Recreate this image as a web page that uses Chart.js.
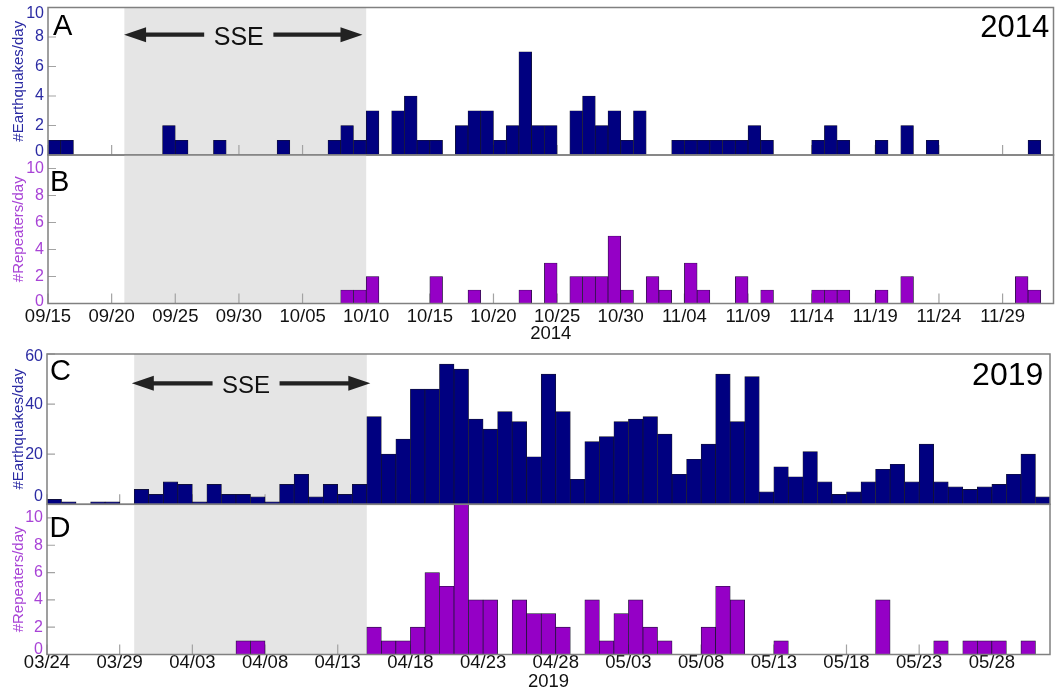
<!DOCTYPE html>
<html>
<head>
<meta charset="utf-8">
<script src="https://cdn.jsdelivr.net/npm/chart.js@4.4.0/dist/chart.umd.min.js"></script>
<style>
  html, body { margin: 0; padding: 0; background: #fff; width: 1056px; height: 692px; overflow: hidden; }
  canvas { position: absolute; left: 0; }
</style>
</head>
<body>
<canvas id="pA"></canvas>
<canvas id="pB"></canvas>
<canvas id="pC"></canvas>
<canvas id="pD"></canvas>
<script>
// ---- daily counts (one value per day from the first date of each window) ----
const START_2014 = '2014-09-15';
const quakes2014 = [
  1,1,0,0,0,0,0,0,0,2,
  1,0,0,1,0,0,0,0,1,0,
  0,0,1,2,1,3,0,3,4,1,
  1,0,2,3,3,1,2,7,2,2,
  0,3,4,2,3,1,3,0,0,1,
  1,1,1,1,1,2,1,0,0,0,
  1,2,1,0,0,1,0,2,0,1,
  0,0,0,0,0,0,0,1,0
];
const repeaters2014 = [
  0,0,0,0,0,0,0,0,0,0,
  0,0,0,0,0,0,0,0,0,0,
  0,0,0,1,1,2,0,0,0,0,
  2,0,0,1,0,0,0,1,0,3,
  0,2,2,2,5,1,0,2,1,0,
  3,1,0,0,2,0,1,0,0,0,
  1,1,1,0,0,1,0,2,0,0,
  0,0,0,0,0,0,2,1,0
];
const ticks2014 = ['09/15','09/20','09/25','09/30','10/05','10/10','10/15','10/20',
                   '10/25','10/30','11/04','11/09','11/14','11/19','11/24','11/29'];
const SSE_2014 = ['2014-09-21', '2014-10-10'];

const START_2019 = '2019-03-24';
const quakes2019 = [
  2,1,0,1,1,0,6,4,9,8,
  1,8,4,4,3,1,8,12,3,8,
  4,8,35,20,26,46,46,56,54,34,
  30,37,33,19,52,37,10,25,27,33,
  34,35,28,12,18,24,52,33,51,5,
  15,11,21,9,4,5,9,14,16,9,
  24,9,7,6,7,8,12,20,3
];
const repeaters2019 = [
  0,0,0,0,0,0,0,0,0,0,
  0,0,0,1,1,0,0,0,0,0,
  0,0,2,1,1,2,6,5,11,4,
  4,0,4,3,3,2,0,4,1,3,
  4,2,1,0,0,2,5,4,0,0,
  1,0,0,0,0,0,0,4,0,0,
  0,1,0,1,1,1,0,1,0
];
const ticks2019 = ['03/24','03/29','04/03','04/08','04/13','04/18','04/23',
                   '04/28','05/03','05/08','05/13','05/18','05/23','05/28'];
const SSE_2019 = ['2019-03-30', '2019-04-15'];

const TICK_STEP = 5; // days between labelled ticks

// ---- styling ----
const FONT = '"Liberation Sans", Arial, Helvetica, sans-serif';
Chart.defaults.font.family = FONT;
const NAVY = '#000080', NAVY_TXT = '#2b2ba3';
const PURPLE = '#9500c6', PURPLE_TXT = '#a843d6';
const SHADE = '#e5e5e5', FRAME = '#808080', TICKMARK = '#a3a3a3';
const XFONT = 18.5;

function dayOffset(startISO, iso) {
  return Math.round((Date.parse(iso) - Date.parse(startISO)) / 86400000);
}

function drawArrowHead(ctx, tipX, y, dir, len, half) {
  ctx.beginPath();
  ctx.moveTo(tipX, y);
  ctx.lineTo(tipX + dir * len, y - half);
  ctx.lineTo(tipX + dir * len, y + half);
  ctx.closePath();
  ctx.fill();
}

// shading, inward tick marks, frame and panel annotations
function decor(p) {
  return {
    id: 'panelDecor',
    beforeDraw(chart) {
      // keep the end labels of the value axis tucked inside the panel
      const y = chart.scales.y;
      if (!p.edgeNudge || typeof y.getLabelItems !== 'function') return;
      const items = y.getLabelItems();
      items.forEach((it, i) => {
        const v = y.ticks[i] && y.ticks[i].value;
        const tr = it.options && it.options.translation;
        if (!tr) return;
        if (v === y.min && p.edgeNudge.bottom) tr[1] += p.edgeNudge.bottom;
        if (v === y.max && p.edgeNudge.top) tr[1] += p.edgeNudge.top;
      });
    },
    beforeDatasetsDraw(chart) {
      const { ctx, chartArea: a, scales: { x, y } } = chart;
      ctx.save();
      const xs = x.getPixelForValue(p.sseDays[0]);
      const xe = x.getPixelForValue(p.sseDays[1]);
      ctx.fillStyle = SHADE;
      ctx.fillRect(xs, a.top, xe - xs, a.bottom - a.top);
      ctx.strokeStyle = TICKMARK;
      ctx.lineWidth = 1.2;
      ctx.beginPath();
      p.tickLabels.forEach((_, i) => {
        const px = x.getPixelForValue(i * TICK_STEP);
        ctx.moveTo(px, a.bottom);
        ctx.lineTo(px, a.bottom - 10);
      });
      y.ticks.forEach(t => {
        const py = y.getPixelForValue(t.value);
        ctx.moveTo(a.left, py);
        ctx.lineTo(a.left + 8, py);
      });
      ctx.stroke();
      ctx.restore();
    },
    afterDatasetsDraw(chart) {
      const { ctx, chartArea: a } = chart;
      ctx.save();
      ctx.strokeStyle = FRAME;
      ctx.lineWidth = 1.5;
      ctx.strokeRect(a.left, a.top, a.right - a.left, a.bottom - a.top);
      ctx.restore();
    },
    afterDraw(chart) {
      const { ctx, chartArea: a, scales: { x } } = chart;
      ctx.save();
      ctx.fillStyle = '#000';
      ctx.textBaseline = 'alphabetic';
      ctx.textAlign = 'left';
      ctx.font = '29px ' + FONT;
      ctx.fillText(p.letter, a.left + p.letterPos[0], a.top + p.letterPos[1]);
      if (p.yearTag) {
        ctx.textAlign = 'right';
        ctx.font = p.yearTag.size + 'px ' + FONT;
        ctx.fillText(p.yearTag.text, a.right + p.yearTag.dx, a.top + p.yearTag.dy);
      }
      if (p.arrow) {
        const ar = p.arrow;
        const tipL = x.getPixelForValue(p.sseDays[0]) + ar.dl;
        const tipR = x.getPixelForValue(p.sseDays[1]) + ar.dr;
        const cx = (tipL + tipR) / 2 + ar.textShift;
        const yA = a.top + ar.dy;
        ctx.fillStyle = '#222';
        ctx.strokeStyle = '#222';
        ctx.lineWidth = 4.2;
        ctx.beginPath();
        ctx.moveTo(tipL + 18, yA); ctx.lineTo(cx - ar.gap, yA);
        ctx.moveTo(cx + ar.gap, yA); ctx.lineTo(tipR - 18, yA);
        ctx.stroke();
        drawArrowHead(ctx, tipL, yA, 1, 22, 7.5);
        drawArrowHead(ctx, tipR, yA, -1, 22, 7.5);
        ctx.fillStyle = '#111';
        ctx.textAlign = 'center';
        ctx.font = ar.size + 'px ' + FONT;
        ctx.fillText('SSE', cx, a.top + ar.textDy);
      }
      ctx.restore();
    }
  };
}

function makePanel(p) {
  const canvas = document.getElementById(p.id);
  const cTop = Math.floor(p.top) - 12;
  const below = p.axisH ? p.axisH : 14;
  const cH = Math.ceil(p.bottom + below) - cTop;
  canvas.width = 1056;
  canvas.height = cH;
  canvas.style.top = cTop + 'px';
  const padTop = p.top - cTop;
  const room = cTop + cH - p.bottom;
  const nDays = p.values.length;
  p.sseDays = [dayOffset(p.start, p.sse[0]), dayOffset(p.start, p.sse[1])];

  new Chart(canvas, {
    type: 'bar',
    data: {
      datasets: [{
        data: p.values.map((v, i) => ({ x: i + 0.5, y: v })),
        backgroundColor: p.color,
        borderColor: '#15152a',
        borderWidth: 0.7,
        barPercentage: 1,
        categoryPercentage: 1
      }]
    },
    options: {
      responsive: false,
      animation: false,
      events: [],
      layout: { padding: { top: padTop, bottom: p.axisH ? 0 : room, left: 0, right: 1056 - p.right } },
      plugins: { legend: { display: false }, tooltip: { enabled: false } },
      scales: {
        x: {
          type: 'linear',
          min: 0,
          max: nDays,
          offset: false,
          display: !!p.axisH,
          grid: { display: false, drawTicks: false },
          border: { display: false },
          ticks: {
            stepSize: TICK_STEP,
            includeBounds: false,
            autoSkip: false,
            maxRotation: 0,
            padding: p.tickPad || 0,
            color: '#111',
            font: { size: XFONT },
            callback: v => p.tickLabels[Math.round(v / TICK_STEP)] ?? ''
          },
          title: {
            display: !!p.axisH,
            text: p.xTitle || '',
            color: '#111',
            font: { size: XFONT },
            padding: { top: 0, bottom: p.axisH ? room - p.axisH : 0 }
          },
          afterFit: s => { s.height = p.axisH ? room : 0; s.paddingLeft = 0; s.paddingRight = 0; }
        },
        y: {
          min: 0,
          max: p.yMax,
          grid: { display: false, drawTicks: false },
          border: { display: false },
          ticks: { stepSize: p.yStep, includeBounds: false, autoSkip: false, color: p.textColor, font: { size: 16 }, padding: 4 },
          title: {
            display: true,
            text: p.yTitle,
            color: p.textColor,
            font: { size: 15 },
            padding: { top: 10.2, bottom: 0 }
          },
          afterFit: s => { s.width = p.left; s.paddingTop = 0; s.paddingBottom = 0; }
        }
      }
    },
    plugins: [decor(p)]
  });
}

makePanel({
  id: 'pA', start: START_2014, values: quakes2014, color: NAVY, textColor: NAVY_TXT,
  yTitle: '#Earthquakes/day', yMax: 10, yStep: 2,
  top: 7.5, bottom: 155, left: 48, right: 1053.5,
  tickLabels: ticks2014, sse: SSE_2014,
  edgeNudge: { top: 5.8, bottom: -3.3 },
  letter: 'A', letterPos: [5, 27.5],
  yearTag: { text: '2014', dx: -4.2, dy: 29.8, size: 31 },
  arrow: { dy: 27.2, dl: -0.3, dr: -3.7, textShift: -4.5, gap: 34.6, textDy: 37.5, size: 25 }
});
makePanel({
  id: 'pB', start: START_2014, values: repeaters2014, color: PURPLE, textColor: PURPLE_TXT,
  yTitle: '#Repeaters/day', yMax: 11, yStep: 2,
  top: 155, bottom: 303.5, left: 48, right: 1053.5,
  tickLabels: ticks2014, sse: SSE_2014, axisH: 41.1, tickPad: 2.1, xTitle: '2014',
  edgeNudge: { bottom: -1.6 },
  letter: 'B', letterPos: [2, 35.5]
});
makePanel({
  id: 'pC', start: START_2019, values: quakes2019, color: NAVY, textColor: NAVY_TXT,
  yTitle: '#Earthquakes/day', yMax: 60, yStep: 20,
  top: 354, bottom: 504.3, left: 47, right: 1050,
  tickLabels: ticks2019, sse: SSE_2019,
  edgeNudge: { top: 3, bottom: -7.6 },
  letter: 'C', letterPos: [3, 26],
  yearTag: { text: '2019', dx: -6.7, dy: 31, size: 32 },
  arrow: { dy: 29.3, dl: -2.4, dr: 3.5, textShift: -5, gap: 33.5, textDy: 39.3, size: 24 }
});
makePanel({
  id: 'pD', start: START_2019, values: repeaters2019, color: PURPLE, textColor: PURPLE_TXT,
  yTitle: '#Repeaters/day', yMax: 11, yStep: 2,
  top: 504.3, bottom: 654.5, left: 47, right: 1050,
  tickLabels: ticks2019, sse: SSE_2019, axisH: 38.3, tickPad: -2.3, xTitle: '2019',
  edgeNudge: { bottom: -5.2 },
  letter: 'D', letterPos: [2.5, 32.2]
});
</script>
</body>
</html>
